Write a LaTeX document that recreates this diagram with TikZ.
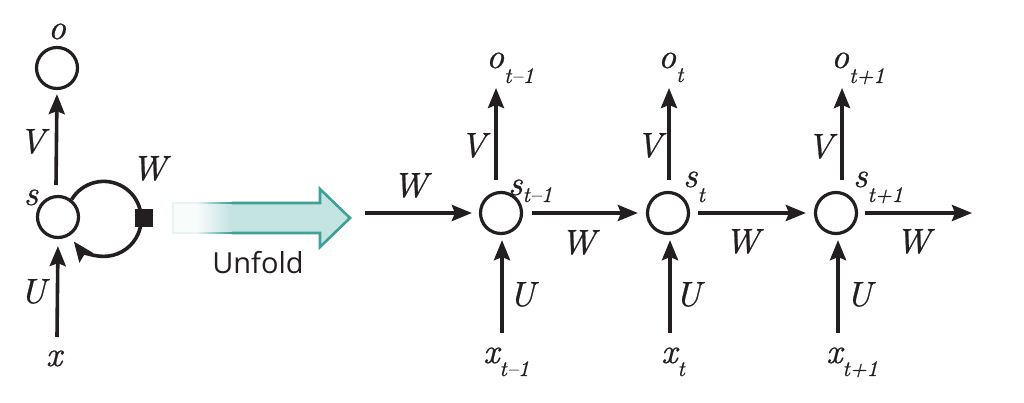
\documentclass[tikz,border=0pt]{standalone}
\usepackage{fontspec}
\newfontfamily\unffont{Open Sans}
\newfontfamily\labfont{lmroman10-italic}[Extension=.otf,FakeBold=0.7]
\usetikzlibrary{arrows.meta}
\definecolor{ink}{HTML}{231F20}
\definecolor{tealfill}{RGB}{196,228,226}
\definecolor{tealline}{RGB}{62,160,150}
\newcommand\mainf{\labfont\fontsize{35}{35}\selectfont}
\newcommand\subf{\labfont\fontsize{22}{22}\selectfont}
\newcommand\sublab[3]{{\mainf #1}\raisebox{-#3pt}{\subf #2}}
\begin{document}
\begin{tikzpicture}[x=1pt,y=-1pt,
  cell/.style={circle,draw=ink,line width=3.2pt,minimum size=41pt,inner sep=0pt},
  arr/.style={draw=ink,line width=3.6pt,-{Stealth[length=20pt,width=16pt,inset=3pt]}},
  lab/.style={text=ink,inner sep=0pt,anchor=base,font=\mainf},
  labw/.style={text=ink,inner sep=0pt,anchor=base west},
  sq/.style={fill=ink,minimum size=18pt,inner sep=0pt}]
\useasboundingbox (0,0) rectangle (1024,403);
% ---------- folded network ----------
\node[cell] (o0) at (57,68) {};
\node[cell] (s0) at (58,217) {};
\coordinate (s0top) at (56,185);
\coordinate (x0bot) at (57,337);
\draw[arr,shorten >=4pt] (s0top) -- (o0.south);
\draw[arr,shorten >=7pt] (x0bot) -- (s0.south);
\draw[draw=ink,line width=3.6pt,-{Stealth[length=20pt,width=16pt,inset=3pt]}]
  (s0.52) arc[start angle=211, end angle=503, radius=37.5];
\node[sq] (w0) at (144,218) {};
\node[lab] (lo0) at (57,39) {o};
\node[lab] (lv0) at (32,153) {V};
\node[lab] (ls0) at (31,205) {s};
\node[lab] (lw0) at (149,180) {W};
\node[lab] (lu0) at (33,303) {U};
\node[lab] (lx0) at (54,366) {x};
% ---------- unfold arrow ----------
\fill[tealfill] (232,203) -- (320,203) -- (320,189) -- (350,218) -- (320,247) -- (320,233) -- (232,233) -- cycle;
\draw[tealline,line width=2.6pt,line join=miter] (231.5,203) -- (320,203) -- (320,189) -- (350,218) -- (320,247) -- (320,233) -- (231.5,233);
\fill[tealfill!12] (173,203) rectangle (198.5,233);
\fill[tealline!12] (171.7,201.7) rectangle (198.5,204.3);
\fill[tealline!12] (171.7,231.7) rectangle (198.5,234.3);
\fill[tealline!12] (171.7,201.7) rectangle (174.3,234.3);
\foreach \i in {0,...,16}{
  \pgfmathtruncatemacro\p{12+88*(\i+1)/17}
  \pgfmathsetmacro\xa{198+2*\i}
  \pgfmathsetmacro\xb{200.4+2*\i}
  \fill[tealfill!\p] (\xa,204) rectangle (\xb,232);
  \fill[tealline!\p] (\xa,201.7) rectangle (\xb,204.3);
  \fill[tealline!\p] (\xa,231.7) rectangle (\xb,234.3);
}
\node[text=ink,inner sep=0pt,anchor=base,font=\unffont\fontsize{29}{29}\selectfont] (unf) at (258,273) {Unfold};
% ---------- unfolded network ----------
\node[cell] (s1) at (501,213) {};
\node[cell] (s2) at (668,213) {};
\node[cell] (s3) at (836,213) {};
\coordinate (win) at (365,213);
\coordinate (wout) at (972,213);
\coordinate (ot1) at (496,88);
\coordinate (ot2) at (669,88);
\coordinate (ot3) at (842,88);
\coordinate (xb1) at (502,333);
\coordinate (xb2) at (670,333);
\coordinate (xb3) at (838,333);
\draw[arr,shorten >=7pt] (win) -- (s1.west);
\draw[arr,shorten <=9pt,shorten >=8pt] (s1.east) -- (s2.west);
\draw[arr,shorten <=8pt,shorten >=8pt] (s2.east) -- (s3.west);
\draw[arr,shorten <=7pt] (s3.east) -- (wout);
\draw[arr,shorten <=11pt] ([xshift=-5pt]s1.north) -- (ot1);
\draw[arr,shorten <=11pt] ([xshift=1pt]s2.north) -- (ot2);
\draw[arr,shorten <=11pt] ([xshift=6pt]s3.north) -- (ot3);
\draw[arr,shorten >=5pt] (xb1) -- ([xshift=1pt]s1.south);
\draw[arr,shorten >=5pt] (xb2) -- ([xshift=2pt]s2.south);
\draw[arr,shorten >=5pt] (xb3) -- ([xshift=2pt]s3.south);
% labels column 1
\node[labw] (lo1) at (486,68) {\sublab{o}{t–1}{15}};
\node[lab] (lwin) at (410,197) {W};
\node[lab] (lv1) at (473,157) {V};
\node[labw] (ls1) at (508,195) {\sublab{s}{t–1}{7}};
\node[lab] (lw1) at (578,254) {W};
\node[lab] (lu1) at (522,306) {U};
\node[labw] (lx1) at (483,363) {\sublab{x}{t–1}{13}};
% labels column 2
\node[labw] (lo2) at (658,68) {\sublab{o}{t}{14}};
\node[lab] (lv2) at (649,157) {V};
\node[labw] (ls2) at (683,187) {\sublab{s}{t}{15}};
\node[lab] (lw2) at (742,253) {W};
\node[lab] (lu2) at (688,306) {U};
\node[labw] (lx2) at (661,363) {\sublab{x}{t}{13}};
% labels column 3
\node[labw] (lo3) at (831,68) {\sublab{o}{t+1}{15}};
\node[lab] (lv3) at (820,158) {V};
\node[labw] (ls3) at (853,187) {\sublab{s}{t+1}{15}};
\node[lab] (lw3) at (913,253) {W};
\node[lab] (lu3) at (859,306) {U};
\node[labw] (lx3) at (826,363) {\sublab{x}{t+1}{13}};
\end{tikzpicture}
\end{document}
